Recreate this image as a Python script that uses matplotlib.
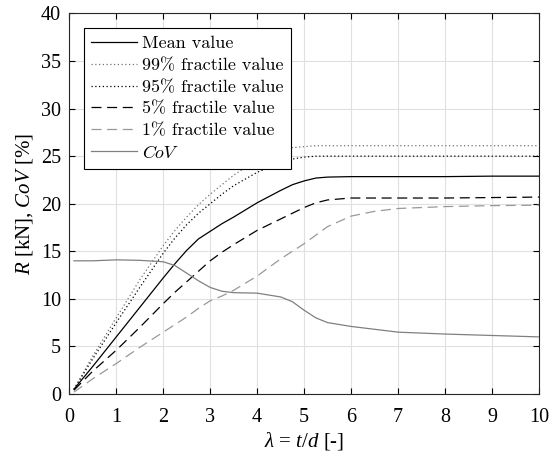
import matplotlib
matplotlib.use('Agg')
import matplotlib.pyplot as plt

plt.rcParams['font.family'] = 'serif'
plt.rcParams['font.serif'] = ['Liberation Serif']
plt.rcParams['mathtext.fontset'] = 'custom'
plt.rcParams['mathtext.rm'] = 'Liberation Serif'
plt.rcParams['mathtext.it'] = 'Liberation Serif:italic'

# valori
lam = [0.1, 0.5, 1, 1.5, 2, 2.25, 2.5, 2.75, 3, 3.25, 3.5, 4, 4.5, 4.75, 5, 5.25, 5.5, 6, 6.5, 7, 8, 9, 10]
mean = [0.5, 2.9, 6.0, 9.1, 12.2, 13.7, 15.1, 16.3, 17.1, 17.9, 18.6, 20.1, 21.4, 22.0, 22.4, 22.7, 22.8, 22.85, 22.85, 22.85, 22.85, 22.9, 22.9]
p99 = [0.5, 4.0, 8.0, 12.0, 15.6, 17.2, 18.6, 19.9, 21.0, 22.0, 23.0, 24.6, 25.6, 25.9, 26.0, 26.1, 26.1, 26.1, 26.1, 26.1, 26.1, 26.1, 26.1]
p95 = [0.5, 3.7, 7.5, 11.2, 14.8, 16.4, 17.8, 19.0, 20.0, 21.0, 21.9, 23.3, 24.3, 24.7, 24.9, 25.0, 25.0, 25.0, 25.0, 25.0, 25.0, 25.0, 25.0]
p5 = [0.4, 2.4, 4.6, 7.0, 9.5, 10.7, 11.8, 12.9, 14.0, 14.9, 15.7, 17.2, 18.4, 19.0, 19.6, 20.1, 20.4, 20.6, 20.6, 20.6, 20.6, 20.65, 20.7]
p1 = [0.2, 1.6, 3.2, 4.9, 6.5, 7.3, 8.1, 9.0, 9.8, 10.3, 10.9, 12.4, 14.2, 15.0, 15.8, 16.7, 17.6, 18.7, 19.2, 19.5, 19.7, 19.8, 19.85]
cov = [14.0, 14.0, 14.1, 14.05, 13.9, 13.5, 12.7, 11.9, 11.2, 10.8, 10.65, 10.6, 10.2, 9.7, 8.8, 8.0, 7.5, 7.1, 6.8, 6.5, 6.3, 6.15, 6.0]

fig = plt.figure(figsize=(5.52, 4.57), dpi=100)
ax = fig.add_axes([0.1255, 0.1379, 0.851, 0.8326])

ax.plot(lam, mean, color='k', lw=0.9, label='Mean value')
ax.plot(lam, p99, color='0.45', lw=0.9, ls=(0, (1, 2)), label='99% fractile value')
ax.plot(lam, p95, color='k', lw=0.9, ls=(0, (1, 2)), label='95% fractile value')
ax.plot(lam, p5, color='k', lw=0.9, ls=(0, (8, 4.5)), label='5% fractile value')
ax.plot(lam, p1, color='0.6', lw=0.9, ls=(0, (8, 4.5)), label='1% fractile value')
ax.plot(lam, cov, color='0.5', lw=0.9, label='CoV')

ax.set_xlim(0, 10)
ax.set_ylim(0, 40)
ax.set_xticks(range(0, 11))
ax.set_yticks(range(0, 41, 5))
ax.grid(True, color='0.88', lw=0.8)
ax.tick_params(direction='in', top=True, right=True, labelsize=14.5, length=4)
ax.tick_params(axis='x', pad=10)
ax.tick_params(axis='y', pad=6)
for s in ax.spines.values():
    s.set_color('0.15')
ax.set_xlabel(r'$\lambda$ = $t/d$ [-]', fontsize=15, labelpad=2)
ax.set_ylabel(r'$R$ [kN], $CoV$ [%]', fontsize=15, labelpad=4)

leg = ax.legend(loc='upper left', fontsize=13, fancybox=False, edgecolor='k',
                framealpha=1, handlelength=2.5, borderpad=0.4, labelspacing=0.34,
                handletextpad=0.3, borderaxespad=0.83)
leg.get_frame().set_linewidth(0.8)
for t in leg.get_texts():
    t.set_family('cmr10')
leg.get_texts()[-1].set_family('cmmi10')

fig.savefig('out.png', dpi=100)
